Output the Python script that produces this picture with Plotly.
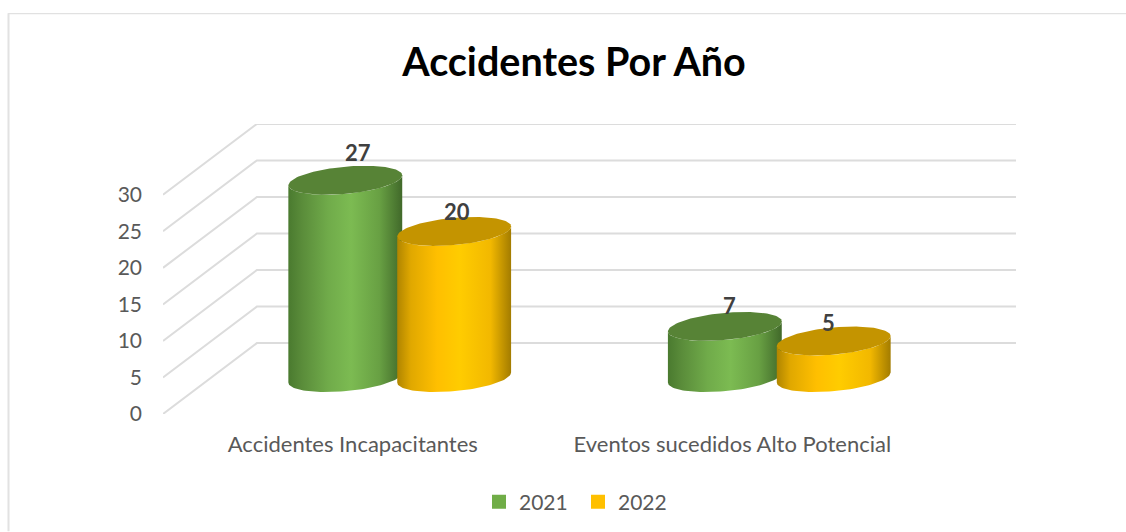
import numpy as np
import plotly.graph_objects as go

# --- data ---
categories = ["Accidentes Incapacitantes", "Eventos sucedidos Alto Potencial"]
series_names = ["2021", "2022"]
values_2021 = [27, 7]
values_2022 = [20, 5]
y_ticks = [0, 5, 10, 15, 20, 25, 30]

# --- style ---
legend_colors = ["#70AD47", "#FFC000"]
body_scales = [
    [[0, "#4A7A2F"], [0.12, "#5A8C3A"], [0.35, "#70AB4A"], [0.55, "#7CBB52"], [0.8, "#68A043"], [1, "#41692A"]],
    [[0, "#B08500"], [0.12, "#E0A800"], [0.35, "#FFBF00"], [0.55, "#FFCC00"], [0.82, "#F2B800"], [1, "#A37C00"]],
]
top_colors = ["#578336", "#C49400"]
grid_color = "#DCDCDC"
text_color = "#595959"
label_color = "#404040"
font = "Lato, 'Open Sans', sans-serif"

W, H = 1126, 532
L, R, T, B = 163, 1016, 124, 414.5   # plot area in the page
px_cat = 380.0      # pixels per category
px_unit = 7.32      # pixels per value unit
depth_x = 94 / px_cat
depth_y = 71 / px_unit
half_w = 57 / px_cat
semi_b = 13.6 / px_unit
tilt = 5 / px_unit
bar_off = [-54.5 / px_cat, 54.5 / px_cat]
label_shift = [[(13, 28), (5, 21)], [(3, 20), (-5, 19)]]

fig = go.Figure()

# walls
gx, gy = [], []
for v in y_ticks:
    gx += [-0.5, -0.5 + depth_x, 1.5 + depth_x, None]
    gy += [v, v + depth_y, v + depth_y, None]
fig.add_trace(go.Scatter(x=gx, y=gy, mode="lines", line=dict(color=grid_color, width=2),
                         hoverinfo="skip", showlegend=False, cliponaxis=False))

def ellipse(cx, cy, t):
    return cx + half_w * np.cos(t), cy + tilt * np.cos(t) + semi_b * np.sin(t)

series_values = [values_2021, values_2022]
annotations = []
for c in range(len(categories)):
    for s, vals in enumerate(series_values):
        v = vals[c]
        cx = c + depth_x / 2 + bar_off[s]
        base = depth_y * 0.514
        t_front = np.linspace(np.pi, 2 * np.pi, 60)
        ex, ey = ellipse(cx, base, t_front)
        tx, ty = ellipse(cx, base + v, t_front[::-1])
        fig.add_trace(go.Scatter(
            x=np.r_[ex, tx], y=np.r_[ey, ty], mode="lines", line=dict(width=0), fill="toself",
            fillgradient=dict(type="horizontal", colorscale=body_scales[s]),
            hoverinfo="skip", showlegend=False, cliponaxis=False))
        t_all = np.linspace(0, 2 * np.pi, 120)
        cxs, cys = ellipse(cx, base + v, t_all)
        fig.add_trace(go.Scatter(
            x=cxs, y=cys, mode="lines", line=dict(width=0), fill="toself", fillcolor=top_colors[s],
            hoverinfo="skip", showlegend=False, cliponaxis=False))
        dx, dy = label_shift[s][c]
        annotations.append(dict(x=cx, y=base + v, xref="x", yref="y", text=f"<b>{v}</b>", showarrow=False,
                                xshift=dx, yshift=dy, font=dict(family=font, size=22, color=label_color)))

for name, col in zip(series_names, legend_colors):
    fig.add_trace(go.Scatter(x=[None], y=[None], mode="markers", name=name,
                             marker=dict(symbol="square", size=14, color=col)))

def pxx(p):
    return (p - L) / (R - L)

def pxy(p):
    return (B - p) / (B - T)

shapes = [
    dict(type="line", xref="paper", yref="paper", x0=pxx(8), x1=pxx(W), y0=pxy(13.5), y1=pxy(13.5),
         line=dict(color="#DADADA", width=1)),
    dict(type="line", xref="paper", yref="paper", x0=pxx(8.5), x1=pxx(8.5), y0=pxy(13), y1=pxy(H),
         line=dict(color="#E2E2E2", width=2)),
]

fig.update_layout(
    width=W, height=H,
    margin=dict(l=L, r=W - R, t=T, b=H - B, pad=0),
    paper_bgcolor="white", plot_bgcolor="rgba(0,0,0,0)",
    title=dict(text="<b>Accidentes Por Año</b>", x=574 / W, y=1 - 62 / H, xanchor="center", yanchor="middle",
               xref="container", yref="container", font=dict(family=font, size=39.5, color="#000000")),
    xaxis=dict(range=[-0.5, 1.5 + depth_x], tickmode="array", tickvals=[0, 1], ticktext=categories,
               showgrid=False, zeroline=False, showline=False, ticks="", ticklabelstandoff=15,
               tickfont=dict(family=font, size=22, color=text_color), fixedrange=True),
    yaxis=dict(range=[0, (B - T) / px_unit], tickmode="array", tickvals=y_ticks,
               showgrid=False, zeroline=False, showline=False, ticks="", ticklabelstandoff=20,
               tickfont=dict(family=font, size=21, color=text_color), fixedrange=True),
    legend=dict(orientation="h", x=578 / W, xref="container", xanchor="center", y=1 - 502 / H, yref="container",
                yanchor="middle", font=dict(family=font, size=21, color=text_color),
                itemwidth=30, entrywidth=54, entrywidthmode="pixels", tracegroupgap=0, bgcolor="rgba(0,0,0,0)"),
    annotations=annotations, shapes=shapes, showlegend=True,
)

fig.write_html("out.html", config=dict(displayModeBar=False),
               post_script="document.body.style.margin='0';")
